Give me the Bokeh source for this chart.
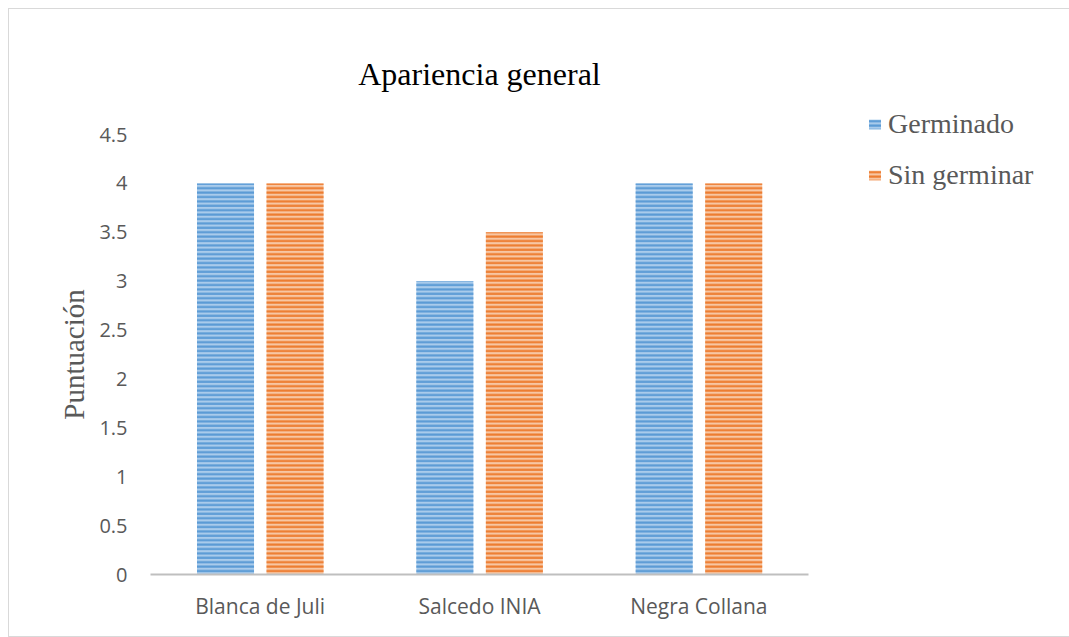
from bokeh.plotting import figure
from bokeh.models import ColumnDataSource, FactorRange, Legend, LegendItem, CustomJSTickFormatter, FixedTicker
from bokeh.transform import dodge
from bokeh.embed import file_html
from bokeh.resources import INLINE

# Varieties and scores
varieties = ["Blanca de Juli", "Salcedo INIA", "Negra Collana"]
germinado = [4, 3, 4]
sin_germinar = [4, 3.5, 4]
y_ticks = [0, 0.5, 1, 1.5, 2, 2.5, 3, 3.5, 4, 4.5]

source = ColumnDataSource(dict(variedad=varieties, germinado=germinado, sin_germinar=sin_germinar))

p = figure(
    x_range=FactorRange(*varieties, range_padding=0),
    y_range=(0, 4.5),
    frame_width=658, frame_height=440,
    output_backend="svg", toolbar_location=None,
    min_border_left=141, min_border_right=252,
    min_border_top=125, min_border_bottom=62,
    margin=(8, 0, 0, 8),
    styles={"border": "1px solid #d9d9d9"},
    title="Apariencia general",
)
p.outline_line_color = None
p.background_fill_color = "white"
p.border_fill_color = "white"

p.title.align = "center"
p.title.text_font = "Liberation Serif"
p.title.text_font_size = "32px"
p.title.text_font_style = "normal"
p.title.text_color = "#000000"
p.title.standoff = 86

r1 = p.vbar(x=dodge("variedad", -0.158, range=p.x_range), top="germinado", width=0.26, bottom=0,
            source=source, fill_color="#a9cbeb", line_color=None,
            hatch_pattern="horizontal_line", hatch_color="#5b9bd5", hatch_scale=4.4, hatch_weight=2.2)
r2 = p.vbar(x=dodge("variedad", 0.159, range=p.x_range), top="sin_germinar", width=0.26, bottom=0,
            source=source, fill_color="#f7c6a3", line_color=None,
            hatch_pattern="horizontal_line", hatch_color="#ed7d31", hatch_scale=4.4, hatch_weight=2.2)

p.xgrid.grid_line_color = None
p.ygrid.grid_line_color = None

p.yaxis.ticker = FixedTicker(ticks=y_ticks)
p.yaxis.formatter = CustomJSTickFormatter(code="return tick.toString();")
p.yaxis.axis_line_color = None
p.yaxis.major_tick_line_color = None
p.yaxis.minor_tick_line_color = None
p.yaxis.major_label_text_font = "Open Sans"
p.yaxis.major_label_text_font_size = "20px"
p.yaxis.major_label_text_color = "#595959"
p.yaxis.major_label_standoff = 17
p.yaxis.axis_label = "Puntuación"
p.yaxis.axis_label_text_font = "Liberation Serif"
p.yaxis.axis_label_text_font_size = "29px"
p.yaxis.axis_label_text_font_style = "normal"
p.yaxis.axis_label_text_color = "#595959"
p.yaxis.axis_label_standoff = 6

p.xaxis.axis_line_color = "#bfbfbf"
p.xaxis.axis_line_width = 2
p.xaxis.major_tick_line_color = None
p.xaxis.minor_tick_line_color = None
p.xaxis.major_label_text_font = "Open Sans"
p.xaxis.major_label_text_font_size = "21px"
p.xaxis.major_label_text_color = "#595959"
p.xaxis.major_label_standoff = 11

legend = Legend(
    items=[LegendItem(label="Germinado", renderers=[r1]),
           LegendItem(label="Sin germinar", renderers=[r2])],
    location=(59, 383),
    label_text_font="Liberation Serif",
    label_text_font_size="28px",
    label_text_color="#595959",
    glyph_width=15, glyph_height=12,
    label_standoff=6, spacing=19,
    border_line_color=None, background_fill_alpha=0,
    padding=0, margin=0,
)
p.add_layout(legend, "right")

open("out.html", "w").write(file_html(p, INLINE))
